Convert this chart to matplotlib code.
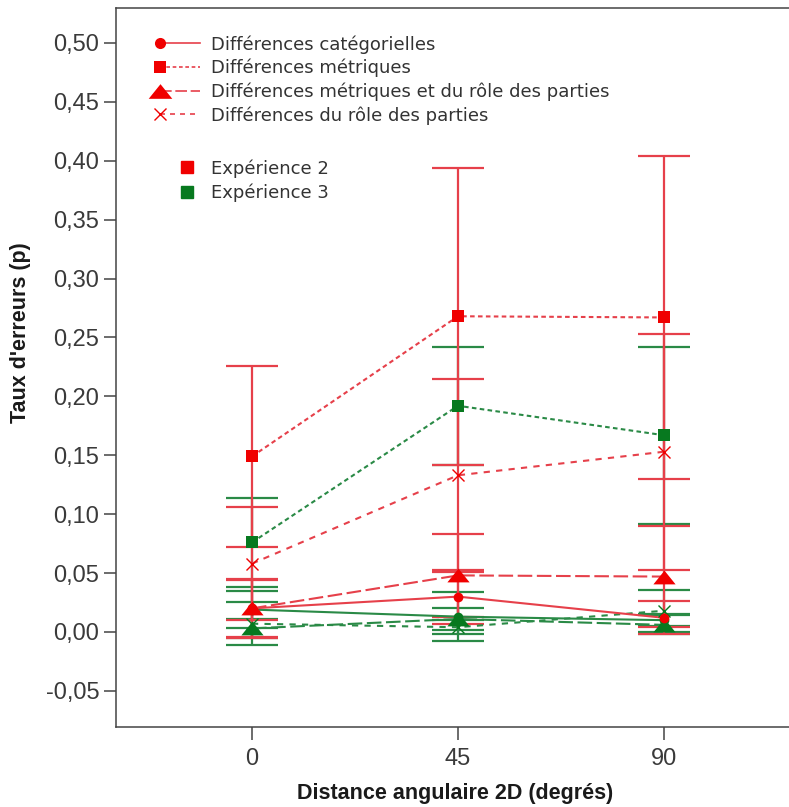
import numpy as np
import matplotlib
matplotlib.use("Agg")
import matplotlib.pyplot as plt
from matplotlib.lines import Line2D
from matplotlib.legend_handler import HandlerLine2D
from matplotlib.ticker import FuncFormatter, FixedLocator

# ---- data -------------------------------------------------------------
angles = [0, 45, 90]
x_tick_labels = ["0", "45", "90"]
y_ticks = [-0.05, 0.00, 0.05, 0.10, 0.15, 0.20, 0.25, 0.30, 0.35, 0.40, 0.45, 0.50]

conditions = ["Différences catégorielles",
              "Différences métriques",
              "Différences métriques et du rôle des parties",
              "Différences du rôle des parties"]
experiments = ["Expérience 2", "Expérience 3"]

# Expérience 2 : means and error half-widths
exp2_categ = [0.020, 0.030, 0.012]
exp2_metr = [0.149, 0.268, 0.267]
exp2_metr_role = [0.020, 0.048, 0.047]
exp2_role = [0.058, 0.133, 0.153]
exp2_categ_err = [0.025, 0.023, 0.014]
exp2_metr_err = [0.077, 0.126, 0.137]
exp2_metr_role_err = [0.024, 0.035, 0.043]
exp2_role_err = [0.048, 0.082, 0.100]

# Expérience 3 : means and error half-widths
exp3_categ = [0.019, 0.013, 0.010]
exp3_metr = [0.076, 0.192, 0.167]
exp3_metr_role = [0.003, 0.011, 0.006]
exp3_role = [0.007, 0.004, 0.018]
exp3_categ_err = [0.016, 0.021, 0.005]
exp3_metr_err = [0.038, 0.050, 0.075]
exp3_metr_role_err = [0.008, 0.009, 0.008]
exp3_role_err = [0.018, 0.006, 0.018]

# ---- style --------------------------------------------------------------
plt.rcParams['font.family'] = ['Liberation Sans', 'DejaVu Sans']

RED_LINE, RED_MARK = '#e6404a', '#f00000'
GREEN_LINE, GREEN_MARK = '#2a8a46', '#07791f'

# flattened triangle marker
TRI = [(0, 0.62), (-1, -0.62), (1, -0.62), (0, 0.62)]

cond_styles = [
    dict(marker='o', ms=7, ls='-', mew=0),
    dict(marker='s', ms=9, ls=(0, (2.2, 1.6)), mew=0),
    dict(marker=TRI, ms=16, ls=(0, (7, 2.2)), mew=0),
    dict(marker='x', ms=8, ls=(0, (3, 3)), mew=1.0),
]

fig = plt.figure(figsize=(7.89, 8.07), dpi=100)
ax = fig.add_axes([116 / 789, 1 - 727 / 807, 1 - 116 / 789, (727 - 8) / 807])

series = [
    (GREEN_LINE, GREEN_MARK,
     [exp3_categ, exp3_metr, exp3_metr_role, exp3_role],
     [exp3_categ_err, exp3_metr_err, exp3_metr_role_err, exp3_role_err]),
    (RED_LINE, RED_MARK,
     [exp2_categ, exp2_metr, exp2_metr_role, exp2_role],
     [exp2_categ_err, exp2_metr_err, exp2_metr_role_err, exp2_role_err]),
]

# error bars first (green beneath red)
for line_c, mark_c, means, errs in series:
    for m, e in zip(means, errs):
        ax.errorbar(angles, m, yerr=e, fmt='none', ecolor=line_c,
                    elinewidth=1.6, capsize=19, capthick=1.6, zorder=2)

# connecting lines and markers
for line_c, mark_c, means, errs in series:
    for m, st in zip(means, cond_styles):
        ax.plot(angles, m, color=line_c, lw=1.5, ls=st['ls'], zorder=3)
        ax.plot(angles, m, ls='none', marker=st['marker'], ms=st['ms'],
                mfc=mark_c, mec=mark_c, mew=st['mew'], zorder=4)

# ---- axes -------------------------------------------------------------
ax.set_xlim(-29.7, 117.3)
ax.set_ylim(-0.0807, 0.5297)
ax.xaxis.set_major_locator(FixedLocator(angles))
ax.set_xticklabels(x_tick_labels)
ax.yaxis.set_major_locator(FixedLocator(y_ticks))
ax.yaxis.set_major_formatter(FuncFormatter(
    lambda v, _: f"{round(v, 2):.2f}".replace(".", ",").replace("-0,00", "0,00")))

for side in ('left', 'bottom', 'top'):
    ax.spines[side].set_color('#444444')
    ax.spines[side].set_linewidth(1.1)
ax.spines['right'].set_visible(False)

ax.tick_params(axis='both', direction='out', length=9, width=1.1,
               color='#444444', labelsize=17, labelcolor='#3a3a3a')
ax.tick_params(axis='y', pad=3)
ax.tick_params(axis='x', pad=6)

fig.text(455 / 789, 1 - 793 / 807, "Distance angulaire 2D (degrés)",
         ha='center', va='center', fontsize=15.5, fontweight='bold', color='#1a1a1a')
fig.text(21 / 789, 1 - 333 / 807, "Taux d'erreurs (p)", rotation=90,
         ha='center', va='center', fontsize=15.5, fontweight='bold', color='#1a1a1a')


# ---- legends ----------------------------------------------------------
class LeftMarkerHandler(HandlerLine2D):
    """Legend handle with the marker at the start of the line sample."""
    def create_artists(self, legend, orig_handle, xdescent, ydescent,
                       width, height, fontsize, trans):
        arts = super().create_artists(legend, orig_handle, xdescent, ydescent,
                                      width, height, fontsize, trans)
        for a in arts:
            a.set_markevery([0])
        return arts


leg_prop = {'family': 'DejaVu Sans', 'size': 13}
cond_handles = []
for st in cond_styles:
    ms = st['ms'] if st['marker'] != 'o' else 8
    if isinstance(st['marker'], list):
        ms = 17
    cond_handles.append(Line2D([0, 1], [0, 0], color=RED_LINE, lw=1.2, ls=st['ls'],
                               marker=st['marker'], ms=ms, mfc=RED_MARK,
                               mec=RED_MARK, mew=st['mew']))
leg1 = ax.legend(cond_handles, conditions, loc='upper left',
                 bbox_to_anchor=(160 / 789, 1 - 35 / 807),
                 bbox_transform=fig.transFigure, frameon=False,
                 prop=leg_prop, borderpad=0, borderaxespad=0,
                 handlelength=2.2, handletextpad=0.6, labelspacing=0.29,
                 handler_map={Line2D: LeftMarkerHandler()})
for t in leg1.get_texts():
    t.set_color('#333333')
ax.add_artist(leg1)

exp_handles = [Line2D([], [], ls='none', marker='s', ms=8, mfc=RED_MARK, mec=RED_MARK),
               Line2D([], [], ls='none', marker='s', ms=8, mfc=GREEN_MARK, mec=GREEN_MARK)]
leg2 = ax.legend(exp_handles, experiments, loc='upper left',
                 bbox_to_anchor=(178 / 789, 1 - 159 / 807),
                 bbox_transform=fig.transFigure, frameon=False,
                 prop=leg_prop, borderpad=0, borderaxespad=0, numpoints=1,
                 handlelength=1.0, handletextpad=0.83, labelspacing=0.35)
for t in leg2.get_texts():
    t.set_color('#333333')

fig.savefig("out.png", dpi=100)
